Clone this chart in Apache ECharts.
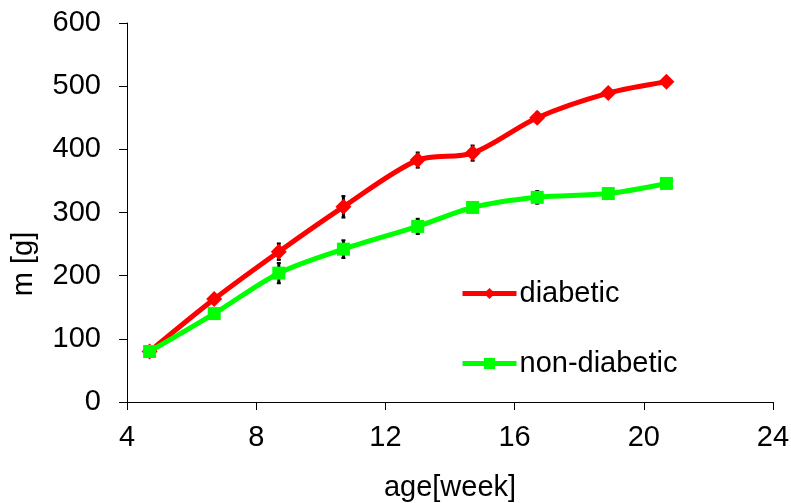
<!DOCTYPE html>
<html lang="en">
<head>
    <meta charset="UTF-8">
    <title>m [g] vs age</title>
    <script src="https://cdn.jsdelivr.net/npm/echarts@6/dist/echarts.min.js"></script>
    <style>
        html, body { margin: 0; padding: 0; background: #fff; }
    </style>
</head>
<body>
    <div id="chart" style="width: 791px; height: 503px;"></div>
    <script>
        // data
        var ages = [4.7, 6.7, 8.7, 10.7, 13, 14.7, 16.7, 18.9, 20.7];
        var diabetic = [80, 163, 238, 309, 383, 394, 450, 489, 507];
        var nonDiabetic = [80, 140, 204, 242, 278, 308, 324, 330, 346];
        var diabeticErr = [5, 6, 13, 17, 12, 12, 8, 5, 4];
        var nonDiabeticErr = [5, 5, 16, 14, 12, 8, 10, 4, 4];

        var xTicks = [4, 8, 12, 16, 20, 24];
        var yTicks = [0, 100, 200, 300, 400, 500, 600];

        var font = 'Liberation Sans, Arial, sans-serif';
        var fs = 29;

        function pairs(ys) {
            return ages.map(function (a, i) { return [a, ys[i]]; });
        }

        function errData(ys, errs) {
            return ages.map(function (a, i) { return [a, ys[i] - errs[i], ys[i] + errs[i]]; });
        }

        // vertical black error bars
        function renderErr(params, api) {
            var lo = api.coord([api.value(0), api.value(1)]);
            var hi = api.coord([api.value(0), api.value(2)]);
            return {
                type: 'group',
                children: [
                    { type: 'line', shape: { x1: lo[0], y1: lo[1], x2: hi[0], y2: hi[1] }, style: { stroke: '#000', lineWidth: 3 } },
                    { type: 'line', shape: { x1: lo[0] - 2, y1: lo[1], x2: lo[0] + 2, y2: lo[1] }, style: { stroke: '#000', lineWidth: 2 } },
                    { type: 'line', shape: { x1: hi[0] - 2, y1: hi[1], x2: hi[0] + 2, y2: hi[1] }, style: { stroke: '#000', lineWidth: 2 } }
                ]
            };
        }

        var chart = echarts.init(document.getElementById('chart'));

        chart.setOption({
            animation: false,
            textStyle: { fontFamily: font },
            grid: { left: 127, right: 18, top: 23, bottom: 101, outerBoundsMode: 'none' },
            legend: {
                data: ['diabetic', 'non-diabetic'],
                orient: 'vertical',
                left: 460,
                top: 279,
                padding: 0,
                itemWidth: 54,
                itemHeight: 14,
                itemGap: 41,
                lineStyle: { width: 5 },
                textStyle: { fontSize: fs, color: '#000', fontFamily: font, padding: [0, 0, 0, -2] }
            },
            xAxis: {
                type: 'value',
                min: xTicks[0],
                max: xTicks[xTicks.length - 1],
                interval: 4,
                name: 'age[week]',
                nameLocation: 'middle',
                nameGap: 71,
                nameTextStyle: { fontSize: fs, color: '#000', fontFamily: font },
                axisLine: { lineStyle: { color: '#000', width: 1 } },
                axisTick: { show: true, length: 8, lineStyle: { color: '#000' } },
                axisLabel: { fontSize: fs, color: '#000', margin: 21, fontFamily: font },
                splitLine: { show: false }
            },
            yAxis: {
                type: 'value',
                min: yTicks[0],
                max: yTicks[yTicks.length - 1],
                interval: 100,
                axisLine: { show: true, lineStyle: { color: '#000', width: 1 } },
                axisTick: { show: true, length: 8, lineStyle: { color: '#000' } },
                axisLabel: { fontSize: fs, color: '#000', margin: 26, fontFamily: font },
                splitLine: { show: false }
            },
            graphic: [{
                type: 'text',
                x: 24,
                y: 264,
                rotation: Math.PI / 2,
                style: {
                    text: 'm [g]',
                    fontSize: fs,
                    fontFamily: font,
                    fill: '#000',
                    align: 'center',
                    verticalAlign: 'middle'
                }
            }],
            series: [
                {
                    type: 'custom',
                    name: 'err-d',
                    renderItem: renderErr,
                    data: errData(diabetic, diabeticErr),
                    encode: { x: 0, y: [1, 2] },
                    z: 1,
                    silent: true
                },
                {
                    type: 'custom',
                    name: 'err-n',
                    renderItem: renderErr,
                    data: errData(nonDiabetic, nonDiabeticErr),
                    encode: { x: 0, y: [1, 2] },
                    z: 1,
                    silent: true
                },
                {
                    name: 'diabetic',
                    type: 'line',
                    data: pairs(diabetic),
                    smooth: 0.3,
                    symbol: 'diamond',
                    symbolSize: 16,
                    lineStyle: { color: '#ff0000', width: 5 },
                    itemStyle: { color: '#ff0000' },
                    z: 3
                },
                {
                    name: 'non-diabetic',
                    type: 'line',
                    data: pairs(nonDiabetic),
                    smooth: 0.3,
                    symbol: 'rect',
                    symbolSize: 13,
                    lineStyle: { color: '#00ff00', width: 5 },
                    itemStyle: { color: '#00ff00' },
                    z: 3
                }
            ]
        });
    </script>
</body>
</html>
